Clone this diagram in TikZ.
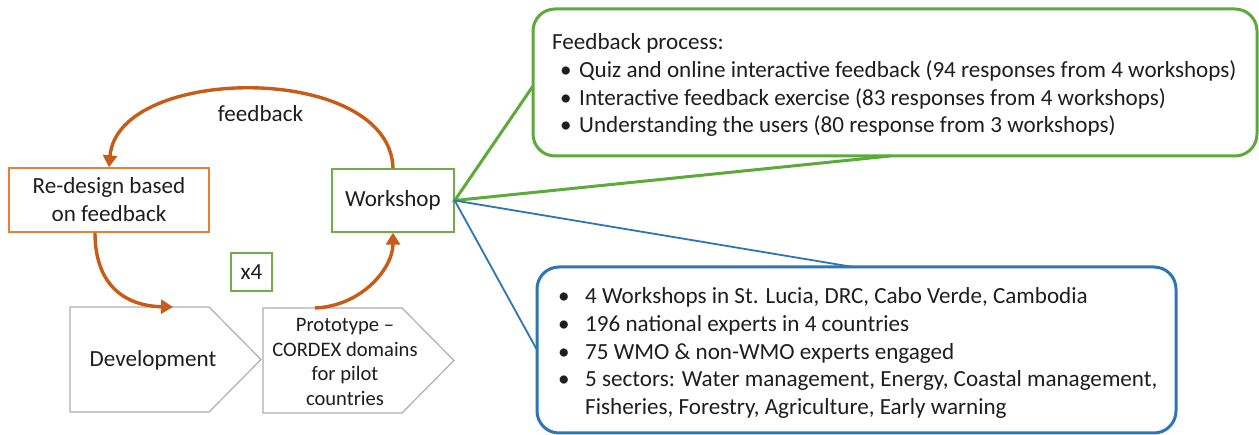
\documentclass[tikz,border=0pt]{standalone}
\usepackage{fontspec}
\setmainfont{Carlito}
\usetikzlibrary{arrows.meta}

\definecolor{loopor}{RGB}{200,92,22}
\definecolor{boxor}{RGB}{237,125,49}
\definecolor{wsgreen}{RGB}{112,173,71}
\definecolor{callgreen}{RGB}{92,170,58}
\definecolor{callblue}{RGB}{46,117,182}
\definecolor{pentgray}{RGB}{175,175,175}
\definecolor{ink}{RGB}{30,30,30}

\tikzset{
  body/.style={font=\fontsize{23.1}{28}\selectfont, text=ink},
  small/.style={font=\fontsize{20.6}{24.5}\selectfont, text=ink},
  listline/.style={font=\fontsize{23.1}{27.7}\selectfont, text=ink, anchor=base west, inner sep=0pt},
  stagebox/.style={draw, line width=1.4pt, inner sep=0pt},
  looparrow/.style={draw=loopor, line width=3.4pt, -{Triangle[length=12pt,width=14pt]}},
  pent/.style={draw=pentgray, line width=1.2pt},
}
\newcommand{\bul}{\makebox[19pt][l]{•}}

\begin{document}
\begin{tikzpicture}[x=1pt,y=-1pt]
\useasboundingbox[fill=white] (0,0) rectangle (1259,435);

% ---- the iteration loop ----
\node[stagebox, draw=boxor, minimum width=200pt, minimum height=64pt, align=center, body]
  (redesign) at (109,200) {Re-design based\\on feedback};
\node[stagebox, draw=wsgreen, minimum width=122pt, minimum height=63pt, body]
  (ws) at (393,200.5) {Workshop};
\node[stagebox, draw=wsgreen, minimum width=41pt, minimum height=38pt, body]
  (times) at (251.5,272) {x4};

% pentagon stages
\draw[pent] (70,307) -- (209,307) -- (261,359.5) -- (209,412) -- (70,412) -- cycle;
\draw[pent] (263,308) -- (402,308) -- (454,360.5) -- (402,413) -- (263,413) -- cycle;
\node[body, anchor=base] (dev) at (153,367) {Development};
\node[small, align=center] (proto) at (345,362) {Prototype –\\CORDEX domains\\for pilot\\countries};

\coordinate (devtop) at (173,307);
\coordinate (prototop) at (315,308);

\draw[looparrow] (ws.north) .. controls (390,62) and (118,64) .. (redesign.north);
\node[body, anchor=base] (fblabel) at (260.5,122) {feedback};
\draw[looparrow] (redesign.south -| 95,0) .. controls (95,288) and (128,306) .. (devtop);
\draw[looparrow] (prototop) .. controls (362,306) and (393,268) .. (ws.south);

% ---- feedback callout ----
\node[draw=callgreen, line width=3pt, rounded corners=22pt, minimum width=724pt,
      minimum height=147pt, inner sep=0pt] (gcall) at (895,82.5) {};
\coordinate (gA) at (533,86);
\coordinate (gB) at (890,156);
\draw[callgreen, line width=3pt] (gA) -- (ws.east) -- (gB);

\node[listline] (g0) at (552,50) {Feedback process:};
\node[listline] (g1) at (560,78) {\bul Quiz and online interactive feedback (94 responses from 4 workshops)};
\node[listline] (g2) at (560,106) {\bul Interactive feedback exercise (83 responses from 4 workshops)};
\node[listline] (g3) at (560,133) {\bul Understanding the users (80 response from 3 workshops)};

% ---- workshop facts callout ----
\node[draw=callblue, line width=3pt, rounded corners=22pt, minimum width=639pt,
      minimum height=166pt, inner sep=0pt] (bcall) at (856.5,350) {};
\coordinate (bA) at (853,267);
\coordinate (bB) at (537,350);
\draw[callblue, line width=1.8pt] (bA) -- (ws.east) -- (bB);

\node[listline] (b1) at (558,304) {\makebox[27pt][l]{•}4 Workshops in St. Lucia, DRC, Cabo Verde, Cambodia};
\node[listline] (b2) at (558,332) {\makebox[27pt][l]{•}196 national experts in 4 countries};
\node[listline] (b3) at (558,360) {\makebox[27pt][l]{•}75 WMO \& non-WMO experts engaged};
\node[listline] (b4) at (558,387) {\makebox[27pt][l]{•}5 sectors: Water management, Energy, Coastal management,};
\node[listline] (b5) at (585,415) {Fisheries, Forestry, Agriculture, Early warning};
\end{tikzpicture}
\end{document}
